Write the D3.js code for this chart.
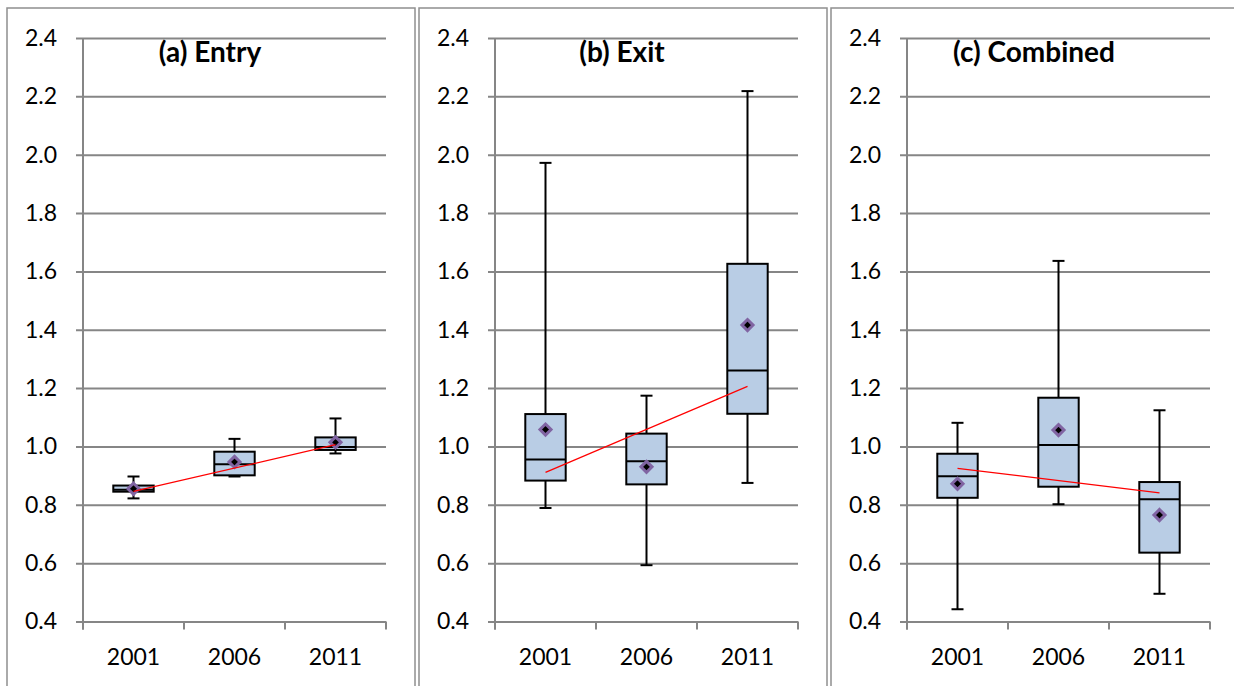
<!DOCTYPE html>
<html>
<head>
<meta charset="utf-8">
<script src="https://cdn.jsdelivr.net/npm/d3@7"></script>
<style>
  html, body { margin: 0; padding: 0; background: #ffffff; }
  svg { display: block; font-family: Lato, "Open Sans", sans-serif; }
</style>
</head>
<body>
<svg id="chart" width="1234" height="686"></svg>
<script>
// Years on the horizontal axis
const years = ["2001", "2006", "2011"];
const yTicks = [0.4, 0.6, 0.8, 1.0, 1.2, 1.4, 1.6, 1.8, 2.0, 2.2, 2.4];
const panelTitles = ["(a) Entry", "(b) Exit", "(c) Combined"];

// (a) Entry: whisker low, Q1, median, Q3, whisker high, mean per year
const entryLow    = [0.822, 0.897, 0.976];
const entryQ1     = [0.845, 0.901, 0.988];
const entryMedian = [0.852, 0.939, 0.998];
const entryQ3     = [0.866, 0.982, 1.031];
const entryHigh   = [0.897, 1.026, 1.096];
const entryMean   = [0.855, 0.947, 1.014];
const entryTrend  = [0.846, 1.006];   // linear trend at 2001 and 2011

// (b) Exit
const exitLow    = [0.789, 0.593, 0.875];
const exitQ1     = [0.883, 0.870, 1.112];
const exitMedian = [0.955, 0.949, 1.260];
const exitQ3     = [1.111, 1.044, 1.626];
const exitHigh   = [1.972, 1.174, 2.218];
const exitMean   = [1.058, 0.930, 1.416];
const exitTrend  = [0.911, 1.206];

// (c) Combined
const combLow    = [0.442, 0.802, 0.495];
const combQ1     = [0.824, 0.862, 0.636];
const combMedian = [0.898, 1.005, 0.819];
const combQ3     = [0.975, 1.167, 0.878];
const combHigh   = [1.081, 1.636, 1.124];
const combMean   = [0.872, 1.056, 0.765];
const combTrend  = [0.925, 0.841];

function rows(low, q1, med, q3, high, mean) {
  return years.map((yr, i) => ({ year: yr, low: low[i], q1: q1[i], med: med[i], q3: q3[i], high: high[i], mean: mean[i] }));
}

const panels = [
  { title: panelTitles[0], boxes: rows(entryLow, entryQ1, entryMedian, entryQ3, entryHigh, entryMean), trend: entryTrend },
  { title: panelTitles[1], boxes: rows(exitLow, exitQ1, exitMedian, exitQ3, exitHigh, exitMean), trend: exitTrend },
  { title: panelTitles[2], boxes: rows(combLow, combQ1, combMedian, combQ3, combHigh, combMean), trend: combTrend }
];

const svg = d3.select("#chart");
const gridColor = "#868686";
const panelStep = 412;
const plotW = 303;
const plotTop = 38, plotBottom = 621.5;

const y = d3.scaleLinear().domain([0.4, 2.4]).range([plotBottom, plotTop]);

panels.forEach((p, pi) => {
  const ox = pi * panelStep;
  const left = 83 + ox;

  // panel frame
  svg.append("rect")
    .attr("x", 7 + ox).attr("y", 8)
    .attr("width", 408).attr("height", 700)
    .attr("fill", "none").attr("stroke", "#8f8f8f").attr("stroke-width", 1.5);

  const x = d3.scaleBand().domain(years).range([left, left + plotW]);
  const g = svg.append("g");

  // horizontal gridlines with outward ticks
  g.append("g")
    .attr("transform", `translate(${left},0)`)
    .call(d3.axisLeft(y).tickValues(yTicks).tickSizeInner(-plotW).tickSizeOuter(0).tickFormat(""))
    .call(a => a.select(".domain").remove())
    .call(a => a.selectAll(".tick line").attr("stroke", gridColor).attr("stroke-width", 2).attr("x1", -7));

  // y tick labels
  g.append("g")
    .attr("transform", `translate(${left},0)`)
    .call(d3.axisLeft(y).tickValues(yTicks).tickSize(7).tickPadding(19).tickFormat(d3.format(".1f")))
    .call(a => a.select(".domain").remove())
    .call(a => a.selectAll(".tick line").remove())
    .call(a => a.selectAll("text").attr("font-size", 23).attr("fill", "#000").attr("font-family", "Lato, sans-serif"));

  // vertical axis line
  g.append("line")
    .attr("x1", left).attr("x2", left)
    .attr("y1", plotTop).attr("y2", plotBottom + 8)
    .attr("stroke", gridColor).attr("stroke-width", 2);

  // category separators on x axis
  const seps = years.map(d => x(d)).concat([left + plotW]);
  g.selectAll(".sep").data(seps).enter().append("line")
    .attr("x1", d => d).attr("x2", d => d)
    .attr("y1", plotBottom).attr("y2", plotBottom + 8)
    .attr("stroke", gridColor).attr("stroke-width", 2);

  // x labels
  g.append("g")
    .attr("transform", `translate(0,${plotBottom})`)
    .call(d3.axisBottom(x).tickSize(0).tickPadding(27))
    .call(a => a.select(".domain").remove())
    .call(a => a.selectAll("text").attr("font-size", 23).attr("fill", "#000").attr("font-family", "Lato, sans-serif"));

  const bw = x.bandwidth() * 0.4;
  const cx = d => x(d.year) + x.bandwidth() / 2;

  const box = g.selectAll(".box").data(p.boxes).enter().append("g");

  // whiskers
  box.append("line")
    .attr("x1", cx).attr("x2", cx)
    .attr("y1", d => y(d.high)).attr("y2", d => y(d.low))
    .attr("stroke", "#000").attr("stroke-width", 2);
  box.append("line")
    .attr("x1", d => cx(d) - 6).attr("x2", d => cx(d) + 6)
    .attr("y1", d => y(d.high)).attr("y2", d => y(d.high))
    .attr("stroke", "#000").attr("stroke-width", 2);
  box.append("line")
    .attr("x1", d => cx(d) - 6).attr("x2", d => cx(d) + 6)
    .attr("y1", d => y(d.low)).attr("y2", d => y(d.low))
    .attr("stroke", "#000").attr("stroke-width", 2);

  // interquartile box
  box.append("rect")
    .attr("x", d => cx(d) - bw / 2).attr("width", bw)
    .attr("y", d => y(d.q3)).attr("height", d => y(d.q1) - y(d.q3))
    .attr("fill", "#b9cde5").attr("stroke", "#000").attr("stroke-width", 2);

  // median
  box.append("line")
    .attr("x1", d => cx(d) - bw / 2).attr("x2", d => cx(d) + bw / 2)
    .attr("y1", d => y(d.med)).attr("y2", d => y(d.med))
    .attr("stroke", "#000").attr("stroke-width", 2);

  // trend line
  g.append("line")
    .attr("x1", x(years[0]) + x.bandwidth() / 2)
    .attr("x2", x(years[years.length - 1]) + x.bandwidth() / 2)
    .attr("y1", y(p.trend[0])).attr("y2", y(p.trend[1]))
    .attr("stroke", "#ff0000").attr("stroke-width", 1.2);

  // mean markers
  const diamond = d3.symbol().type(d3.symbolDiamond2).size(78);
  box.append("path")
    .attr("d", diamond)
    .attr("transform", d => `translate(${cx(d)},${y(d.mean)})`)
    .attr("fill", "#000").attr("stroke", "#8064a2").attr("stroke-width", 3);

  // panel title
  g.append("text")
    .attr("x", left + 127).attr("y", 62)
    .attr("text-anchor", "middle")
    .attr("font-size", 28).attr("font-weight", "bold").attr("fill", "#000")
    .attr("font-family", "Lato, sans-serif")
    .text(p.title);
});
</script>
</body>
</html>
